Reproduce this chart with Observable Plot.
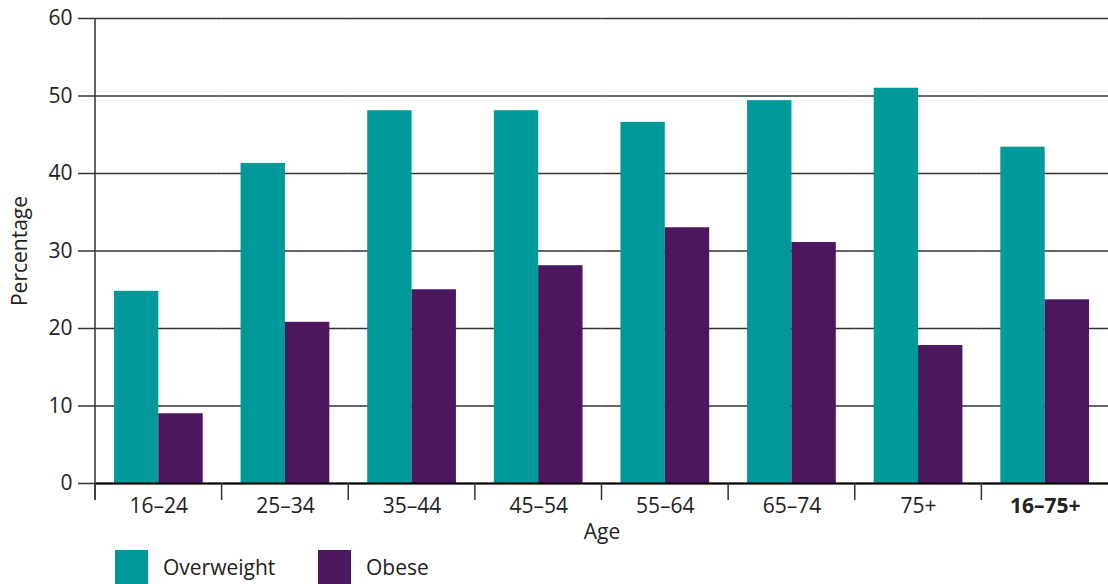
<!DOCTYPE html>
<html>
<head>
<meta charset="utf-8">
<script src="https://cdn.jsdelivr.net/npm/d3@7"></script>
<script src="https://cdn.jsdelivr.net/npm/@observablehq/plot@0.6"></script>
<style>
  body { margin: 0; background: #fff; font-family: "Open Sans", sans-serif; }
  #legend { display: flex; margin-left: 115px; margin-top: 0px; font-size: 21px; color: #222; }
  .item { display: flex; align-items: center; width: 203px; }
  .sw { width: 33px; height: 34px; margin-right: 15px; }
</style>
</head>
<body>
<div id="chart"></div>
<div id="legend"></div>
<script>
const ages = ["16–24","25–34","35–44","45–54","55–64","65–74","75+","16–75+"];
const seriesNames = ["Overweight","Obese"];
const overweight = [24.8, 41.3, 48.1, 48.1, 46.6, 49.4, 51.0, 43.4];
const obese = [9.0, 20.8, 25.0, 28.1, 33.0, 31.1, 17.8, 23.7];
const yTicks = [0, 10, 20, 30, 40, 50, 60];
const colors = ["#009999", "#4d1760"];

const data = ages.flatMap((a, i) => [
  {age: a, series: seriesNames[0], value: overweight[i]},
  {age: a, series: seriesNames[1], value: obese[i]}
]);

const plot = Plot.plot({
  width: 1108, height: 550,
  marginLeft: 95, marginRight: 0, marginTop: 18, marginBottom: 67,
  style: {fontFamily: "Open Sans", fontSize: "21px", color: "#222", background: "#fff"},
  fx: {domain: ages, padding: 0, round: false, label: null},
  x: {domain: seriesNames, paddingInner: 0, paddingOuter: 0.427, round: false, axis: null},
  y: {domain: [0, 60]},
  color: {domain: seriesNames, range: colors},
  marks: [
    Plot.gridY(yTicks, {stroke: "#333", strokeOpacity: 1, strokeWidth: 1.5}),
    Plot.axisY(yTicks, {tickSize: 17, tickPadding: 6, stroke: "#333", strokeWidth: 1.5,
      label: "Percentage", labelAnchor: "center", labelArrow: "none", labelOffset: 83}),
    Plot.barY(data, {fx: "age", x: "series", y: "value", fill: "series"}),
    Plot.ruleY([0], {stroke: "#000", strokeWidth: 2}),
    Plot.axisFx({anchor: "bottom", tickSize: 0, tickPadding: 15, label: "Age", labelAnchor: "center",
      labelArrow: "none", labelOffset: 55})
  ]
});
document.getElementById("chart").appendChild(plot);

// decorations from the plot's own scales
const svg = d3.select(plot);
const fx = plot.scale("fx");
const y = plot.scale("y");
const y0 = y.apply(0), yTop = y.apply(60);
const g = svg.append("g").attr("stroke", "#333").attr("stroke-width", 1.5);
ages.forEach(a => {
  const x = fx.apply(a);
  g.append("line").attr("x1", x).attr("x2", x).attr("y1", y0).attr("y2", y0 + 17);
});
const xl = fx.apply(ages[0]);
g.append("line").attr("x1", xl).attr("x2", xl).attr("y1", yTop).attr("y2", y0 + 17);

// bold the total label
const labels = svg.selectAll('g[aria-label="fx-axis tick label"] text');
labels.filter(function() { return this.textContent === ages[ages.length - 1]; })
  .attr("font-weight", "bold");

// legend
const legend = d3.select("#legend");
seriesNames.forEach((s, i) => {
  const it = legend.append("div").attr("class", "item");
  it.append("div").attr("class", "sw").style("background", colors[i]);
  it.append("span").text(s);
});
</script>
</body>
</html>
